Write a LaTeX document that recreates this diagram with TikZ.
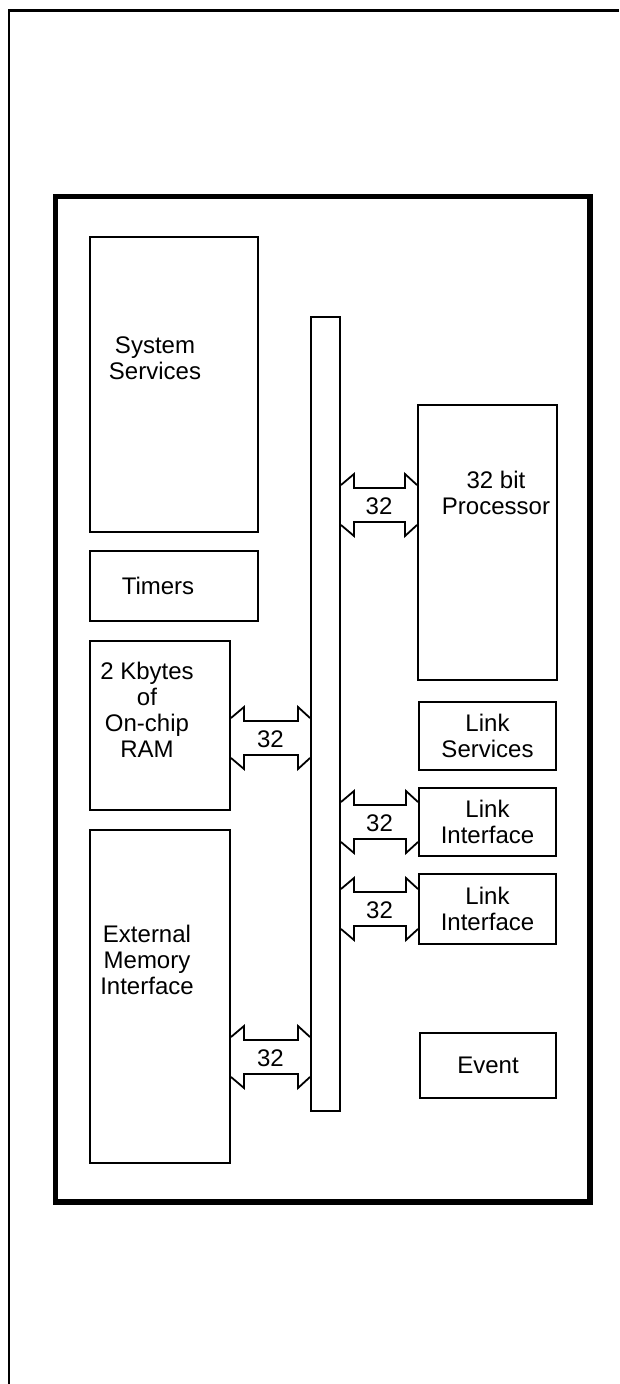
\documentclass[tikz,border=0pt]{standalone}
\usepackage{fontspec}
\setmainfont{Liberation Sans}
\usetikzlibrary{calc}
\newcommand\mkbox[5]{\node[box,minimum width={(#4-#2)*1pt},minimum height={(#5-#3)*1pt}] (#1) at ({(#2+#4)/2},{(#3+#5)/2}) {};}
\newcommand\bus[2]{%
 \draw[busline] ($(#1)+(0,-20)$) -- ($(#1)+(13,-31)$) -- ($(#1)+(13,-17)$) -- ($(#2)+(-12,-17)$) -- ($(#2)+(-12,-31)$) -- ($(#2)+(0,-20)$);
 \draw[busline] ($(#1)+(0,20)$) -- ($(#1)+(13,31)$) -- ($(#1)+(13,17)$) -- ($(#2)+(-12,17)$) -- ($(#2)+(-12,31)$) -- ($(#2)+(0,20)$);
 \node[lbl] at ($(#1)!0.5!(#2)+(0,1)$) {32};}
\begin{document}
\begin{tikzpicture}[x=1pt,y=-1pt,
  box/.style={draw,line width=2pt,inner sep=0pt},
  lbl/.style={font=\fontsize{24}{26}\selectfont,align=center,inner sep=0pt},
  busline/.style={line width=1.8pt,line join=miter}]
\useasboundingbox (0,0) rectangle (619,1384);
\draw[line width=3pt] (8,10.5) -- (619,10.5);
\draw[line width=2pt] (9,9) -- (9,1384);
\draw[line width=5.5pt] (55.5,196.5) rectangle (590,1202);
% blocks
\mkbox{sys}{90}{237}{258}{532}
\mkbox{tim}{90}{551}{258}{621}
\mkbox{ram}{90}{641}{230}{810}
\mkbox{ext}{90}{830}{230}{1163}
\mkbox{bar}{311}{317}{340}{1111}
\mkbox{proc}{418}{405}{557}{680}
\mkbox{ls}{419}{702}{556}{770}
\mkbox{lia}{419}{788}{556}{856}
\mkbox{lib}{419}{874}{556}{944}
\mkbox{ev}{420}{1033}{556}{1098}
% labels
\node[lbl] (sysT) at (155,358) {System\\Services};
\node[lbl] (timT) at (158,586) {Timers};
\node[lbl] (ramT) at (147,710) {2 Kbytes\\of\\On-chip\\RAM};
\node[lbl] (extT) at (147,960) {External\\Memory\\Interface};
\node[lbl] (procT) at (496,493) {32 bit\\Processor};
\node[lbl] (lsT) at (ls) {Link\\Services};
\node[lbl] (liaT) at (lia) {Link\\Interface};
\node[lbl] (libT) at (lib) {Link\\Interface};
\node[lbl] (evT) at (ev) {Event};
% bus arrows
\coordinate (yp) at (0,505);
\coordinate (yr) at (0,738);
\coordinate (ye) at (0,1057);
\coordinate (pA) at (bar.east |- yp); \coordinate (pB) at (proc.west |- yp);
\coordinate (rA) at (ram.east |- yr); \coordinate (rB) at (bar.west |- yr);
\coordinate (eA) at (ext.east |- ye); \coordinate (eB) at (bar.west |- ye);
\coordinate (aA) at (bar.east |- lia.west); \coordinate (aB) at (lia.west);
\coordinate (bA) at (bar.east |- lib.west); \coordinate (bB) at (lib.west);
\bus{pA}{pB}
\bus{rA}{rB}
\bus{eA}{eB}
\bus{aA}{aB}
\bus{bA}{bB}
\end{tikzpicture}
\end{document}
